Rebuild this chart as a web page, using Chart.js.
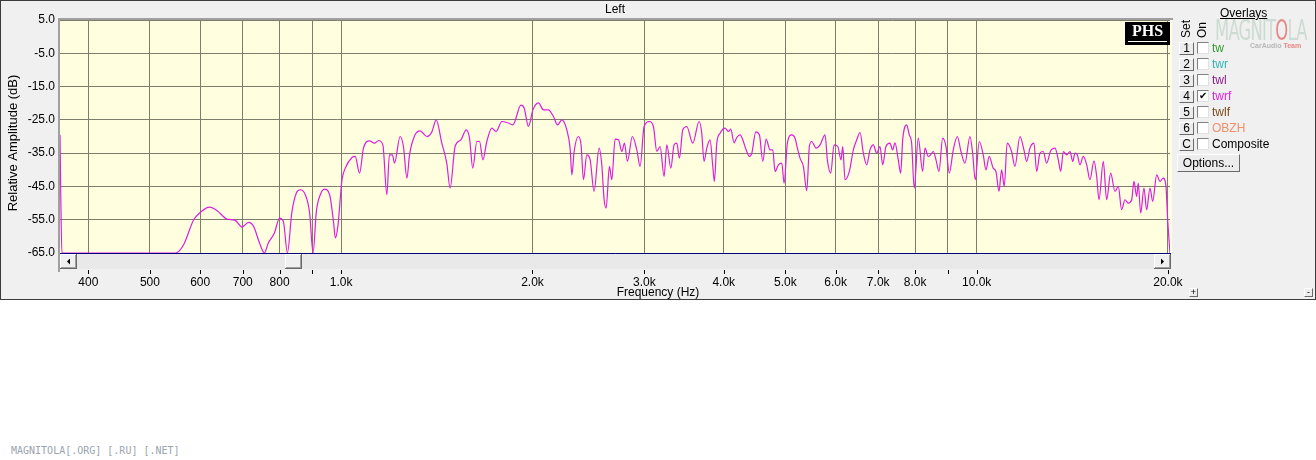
<!DOCTYPE html>
<html>
<head>
<meta charset="utf-8">
<script src="https://cdn.jsdelivr.net/npm/chart.js@4.4.1/dist/chart.umd.min.js"></script>
<style>
  html, body { margin: 0; padding: 0; background: #fff; }
  body { width: 1316px; height: 460px; position: relative; overflow: hidden; font-family: "Liberation Sans", Arial, sans-serif; }
  #chart { position: absolute; left: 0; top: 0; background: #f0f0f0; }
  .abs { position: absolute; white-space: nowrap; line-height: 1; }
  .rot { transform: translate(-50%, -50%) rotate(-90deg); font-size: 12px; }
  .btn { position: absolute; background: #ececec; border-top: 1px solid #fff; border-left: 1px solid #fff;
         border-right: 1px solid #6a6a6a; border-bottom: 1px solid #6a6a6a; box-sizing: border-box;
         font-size: 12px; text-align: center; color: #000; }
  .chk { position: absolute; width: 12px; height: 12px; background: #fff; box-sizing: border-box;
         border-top: 1px solid #808080; border-left: 1px solid #808080; border-right: 1px solid #e0e0e0; border-bottom: 1px solid #e0e0e0;
         font-size: 10px; line-height: 10px; text-align: center; color: #000; }
  .lbl { position: absolute; font-size: 12px; line-height: 12px; }
</style>
</head>
<body>
<canvas id="chart" width="1316" height="300"></canvas>

<div class="abs" style="left:1220px;top:7px;font-size:12px;text-decoration:underline;">Overlays</div>
<div class="abs rot" style="left:1186px;top:29px;">Set</div>
<div class="abs rot" style="left:1202px;top:30px;">On</div>
<div class="abs" style="left:1215px;top:17px;font-size:24px;letter-spacing:-1px;color:rgba(170,200,180,0.5);transform:scale(0.76,1.15);transform-origin:left top;font-family:'DejaVu Sans Condensed',sans-serif;">MAGNIT<span style="color:rgba(225,90,90,0.7);">O</span>LA</div>
<div class="abs" style="left:1250px;top:42px;font-size:7px;font-weight:bold;color:rgba(160,160,160,0.7);">CarAudio <span style="color:rgba(225,90,90,0.7);">Team</span></div>
<div id="rows"></div>
<div class="btn" style="left:1177px;top:154px;width:63px;height:18px;line-height:16px;">Options...</div>
<div class="btn" style="left:1189px;top:288px;width:9px;height:9px;font-size:9px;line-height:7px;">+</div>
<div class="btn" style="left:1304px;top:288px;width:9px;height:9px;font-size:9px;line-height:7px;">-</div>

<div class="abs" style="left:11px;top:446px;font-size:10px;font-family:'DejaVu Sans Mono',monospace;color:#9aa4ae;">MAGNITOLA[.ORG] [.RU] [.NET]</div>

<script>
// Left channel, twrf overlay — frequency response
const freqHz = [
  361, 362, 363.5, 548, 565, 586, 600, 621, 638, 661, 681, 698, 715, 728, 744, 757, 768, 785, 800, 811,
  823, 836, 850, 862, 878, 892, 903, 914, 927, 941, 959, 973, 979, 988, 1003, 1015, 1040, 1052, 1069, 1084,
  1108, 1128, 1145, 1163, 1180, 1191, 1204, 1213, 1238, 1253, 1269, 1281, 1307, 1331, 1364, 1389, 1411, 1440, 1466, 1484,
  1511, 1543, 1573, 1592, 1611, 1635, 1651, 1671, 1695, 1726, 1753, 1790, 1823, 1863, 1918, 1941, 1971, 2003, 2044, 2081,
  2119, 2158, 2190, 2225, 2265, 2292, 2307, 2326, 2362, 2385, 2406, 2435, 2465, 2500, 2546, 2571, 2593, 2612, 2643, 2666,
  2698, 2731, 2765, 2791, 2821, 2872, 2919, 2954, 2997, 3055, 3100, 3138, 3176, 3222, 3254, 3302, 3341, 3374, 3406, 3448,
  3498, 3575, 3658, 3693, 3724, 3761, 3806, 3844, 3866, 3900, 3947, 4019, 4068, 4103, 4152, 4193, 4244, 4285, 4337, 4389,
  4428, 4492, 4551, 4608, 4663, 4731, 4777, 4817, 4875, 4936, 4977, 5037, 5118, 5179, 5223, 5273, 5337, 5403, 5455, 5502,
  5588, 5670, 5774, 5822, 5894, 5965, 6046, 6118, 6156, 6207, 6305, 6397, 6476, 6554, 6633, 6714, 6795, 6877, 6962, 7045,
  7115, 7199, 7304, 7376, 7438, 7528, 7594, 7649, 7760, 7834, 7901, 7976, 8093, 8222, 8293, 8393, 8465, 8546, 8630, 8724,
  8842, 8948, 9056, 9189, 9323, 9448, 9585, 9761, 9856, 9949, 10095, 10242, 10342, 10467, 10619, 10725, 10842, 10947, 11051, 11171,
  11350, 11487, 11699, 11870, 11988, 12130, 12307, 12429, 12579, 12730, 12887, 13076, 13283, 13443, 13561, 13690, 13858, 14025, 14165, 14283,
  14402, 14542, 14717, 14901, 15077, 15298, 15449, 15578, 15823, 16018, 16252, 16508, 16707, 16912, 17116, 17322, 17539, 17682, 17858, 17961,
  18119, 18337, 18516, 18739, 18925, 19202, 19433, 19667, 19858, 19981, 20147
];
const levelDb = [
  -29.5, -47.5, -65, -65, -62.5, -55, -52.8, -51.2, -52.3, -54.8, -55.2, -57.2, -55.8, -57, -62, -65, -62, -59, -54.5, -55.5,
  -65, -53, -47, -46, -47.5, -53, -65, -52.5, -47.5, -45.8, -47.5, -56, -60.5, -57, -43, -39.5, -36.3, -36, -41, -33.5,
  -31.3, -32, -31.2, -32.5, -47.5, -35.5, -35.5, -38, -30, -33, -42.5, -35.5, -29.5, -28.3, -30, -28.6, -25, -32, -38, -45.5,
  -33, -31, -28, -30.5, -39.5, -31.5, -31.5, -37, -31.5, -27.5, -28.5, -25.5, -25.8, -26.5, -20.6, -21.5, -27, -22, -19.9, -22,
  -22, -24, -26.5, -25, -28, -33.5, -41.5, -34.5, -30, -32.5, -43, -35.5, -37, -46.5, -33.5, -38.5, -49, -51.5, -39, -43,
  -30.8, -31, -34.5, -32, -37.5, -30, -34, -39, -27, -25.5, -27, -34.5, -33, -42, -32.5, -39.5, -32.5, -32, -36.5, -28,
  -27, -32, -25.5, -29, -37.5, -33.5, -31, -39, -43.5, -32, -29, -27.5, -28.5, -27.8, -31.9, -30.3, -29.5, -31, -34, -36,
  -35, -28.6, -29.5, -37.5, -30.8, -34, -34, -40.5, -38.5, -38, -44, -32, -29.5, -30.5, -33.5, -36.5, -39, -46.3, -33, -31.5,
  -33.5, -32.5, -29.5, -37, -41, -32.5, -33, -37, -33, -43, -40.5, -34, -31, -28.8, -35, -38.5, -34, -32.5, -35, -33,
  -38.5, -33, -32, -34, -31.9, -37, -41, -31, -26.5, -29.5, -32, -45.5, -30.5, -40.5, -33.5, -36, -35.5, -34.5, -37, -40.5,
  -30.5, -33, -41, -34, -30, -34.5, -38, -30, -35, -43, -31.5, -35.5, -40, -36, -39.5, -40.5, -46.5, -40, -45, -32,
  -34.5, -39, -30, -34, -37.5, -33.5, -32, -40.5, -35, -34.5, -38, -34.3, -33.5, -37, -40.5, -34.5, -35.5, -34.5, -37.5, -35,
  -35.5, -38.5, -36, -38.5, -43, -37.3, -42, -49, -37.5, -49, -41, -46.5, -45, -52, -49, -50, -49, -43.5, -48, -44,
  -53, -45.5, -52, -45.5, -49.5, -41.5, -43.5, -42.5, -45, -55, -65
];
const xTickValues = [400, 500, 600, 700, 800, 900, 1000, 2000, 3000, 4000, 5000, 6000, 7000, 8000, 9000, 10000, 20000];
const xTickLabels = ['400', '500', '600', '700', '800', '', '1.0k', '2.0k', '3.0k', '4.0k', '5.0k', '6.0k', '7.0k', '8.0k', '', '10.0k', '20.0k'];
const yTickValues = [-65, -55, -45, -35, -25, -15, -5, 5];
const overlayKeys = ['1', '2', '3', '4', '5', '6', 'C'];
const overlayNames = ['tw', 'twr', 'twl', 'twrf', 'twlf', 'OBZH', 'Composite'];
const overlayOn = [false, false, false, true, false, false, false];

const overlayColors = ['#2f9a2f', '#2fb3b3', '#8a1a8a', '#e020e0', '#7a4a1a', '#f0906a', '#000000'];
const TRACE = 'rgb(220,30,220)';
const GRID = '#7d7d6b';

// overlay list on the right
const rows = document.getElementById('rows');
overlayKeys.forEach((k, i) => {
  const top = 42 + i * 16;
  rows.insertAdjacentHTML('beforeend',
    `<div class="btn" style="left:1179px;top:${top}px;width:15px;height:13px;line-height:11px;">${k}</div>` +
    `<div class="chk" style="left:1197px;top:${top}px;">${overlayOn[i] ? '&#10004;' : ''}</div>` +
    `<div class="lbl" style="left:1212px;top:${top}px;color:${overlayColors[i]};">${overlayNames[i]}</div>`);
});

function drawBtn(ctx, x, y, w, h) {
  ctx.fillStyle = '#f0f0f0';
  ctx.fillRect(x, y, w, h);
  ctx.fillStyle = '#ffffff';
  ctx.fillRect(x, y, w, 1);
  ctx.fillRect(x, y, 1, h);
  ctx.fillStyle = '#a0a0a0';
  ctx.fillRect(x + 1, y + h - 2, w - 2, 1);
  ctx.fillRect(x + w - 2, y + 1, 1, h - 2);
  ctx.fillStyle = '#696969';
  ctx.fillRect(x, y + h - 1, w, 1);
  ctx.fillRect(x + w - 1, y, 1, h);
}

const rewFrame = {
  id: 'rewFrame',
  beforeDraw(chart) {
    const { ctx, chartArea: a } = chart;
    ctx.save();
    ctx.fillStyle = '#ffffe0';
    ctx.fillRect(a.left, a.top, a.right - a.left + 2, a.bottom - a.top);
    ctx.restore();
  },
  afterDraw(chart) {
    const { ctx, chartArea: a } = chart;
    const xs = chart.scales.x;
    const sb = a.bottom + 1; // scrollbar top
    ctx.save();
    // outer window border
    ctx.strokeStyle = '#3c3c3c';
    ctx.lineWidth = 1;
    ctx.strokeRect(0.5, 0.5, 1315, 299);
    // plot frame
    ctx.fillStyle = '#a0a0a0';
    ctx.fillRect(a.left - 2, a.top - 2, a.right - a.left + 5, 2);
    ctx.fillRect(a.left - 2, a.top - 2, 2, 274 - a.top);
    // scrollbar
    ctx.fillStyle = '#e9e9e9';
    ctx.fillRect(a.left, sb, a.right - a.left + 1, 15);
    drawBtn(ctx, a.left, sb, 17, 15);
    drawBtn(ctx, 285, sb, 17, 15);
    drawBtn(ctx, a.right - 16, sb, 17, 15);
    ctx.fillStyle = '#000';
    ctx.beginPath();
    ctx.moveTo(a.left + 7, sb + 7.5);
    ctx.lineTo(a.left + 10, sb + 4.5);
    ctx.lineTo(a.left + 10, sb + 10.5);
    ctx.fill();
    ctx.beginPath();
    ctx.moveTo(a.right - 6, sb + 7.5);
    ctx.lineTo(a.right - 9, sb + 4.5);
    ctx.lineTo(a.right - 9, sb + 10.5);
    ctx.fill();
    // small tick marks under the scrollbar
    ctx.strokeStyle = '#000';
    ctx.beginPath();
    xs.ticks.forEach(t => {
      const px = Math.round(xs.getPixelForValue(t.value)) + 0.5;
      ctx.moveTo(px, 270);
      ctx.lineTo(px, 274);
    });
    ctx.stroke();
    // texts
    ctx.fillStyle = '#000';
    ctx.font = '12px "Liberation Sans", Arial, sans-serif';
    ctx.textAlign = 'center';
    ctx.textBaseline = 'middle';
    ctx.fillText('Left', (a.left + a.right) / 2, 10);
    ctx.fillText('Frequency (Hz)', 658, 293);
    ctx.save();
    ctx.translate(13, 143);
    ctx.rotate(-Math.PI / 2);
    ctx.font = '13px "Liberation Sans", Arial, sans-serif';
    ctx.fillText('Relative Amplitude (dB)', 0, 0);
    ctx.restore();
    // PHS tag
    ctx.fillStyle = '#000';
    ctx.fillRect(1125, 22, 45, 23);
    ctx.fillStyle = '#fff';
    ctx.font = 'bold 16px "Liberation Serif", "DejaVu Serif", serif';
    ctx.fillText('PHS', 1147.5, 32);
    ctx.fillRect(1128, 41, 39, 1);
    ctx.restore();
  }
};

new Chart(document.getElementById('chart'), {
  type: 'line',
  data: {
    datasets: [{
      label: 'twrf',
      data: freqHz.map((f, i) => ({ x: f, y: levelDb[i] })),
      borderColor: TRACE,
      borderWidth: 1.2,
      pointRadius: 0,
      tension: 0,
      cubicInterpolationMode: 'monotone',
    }]
  },
  options: {
    responsive: false,
    animation: false,
    devicePixelRatio: 1,
    layout: { padding: { left: 0, right: 146, top: 20, bottom: 0 } },
    plugins: { legend: { display: false }, tooltip: { enabled: false } },
    scales: {
      x: {
        type: 'logarithmic',
        min: 361,
        max: 20150,
        afterBuildTicks: s => { s.ticks = xTickValues.map(v => ({ value: v })); },
        afterFit: s => { s.height = 47; },
        ticks: {
          autoSkip: false,
          maxRotation: 0,
          padding: 22,
          color: '#000',
          font: { family: '"Liberation Sans", Arial, sans-serif', size: 12 },
          callback: (v, i) => xTickLabels[i],
        },
        grid: { color: GRID, lineWidth: 1, drawTicks: false },
        border: { display: true, color: '#000080', width: 1 },
      },
      y: {
        min: -65,
        max: 5,
        afterBuildTicks: s => { s.ticks = yTickValues.map(v => ({ value: v })); },
        afterFit: s => { s.width = 60; },
        ticks: {
          padding: 5,
          color: '#000',
          font: { family: '"Liberation Sans", Arial, sans-serif', size: 12 },
          callback: v => v.toFixed(1),
        },
        grid: { color: GRID, lineWidth: 1, drawTicks: false },
        border: { display: false },
      }
    }
  },
  plugins: [rewFrame]
});
</script>
</body>
</html>
